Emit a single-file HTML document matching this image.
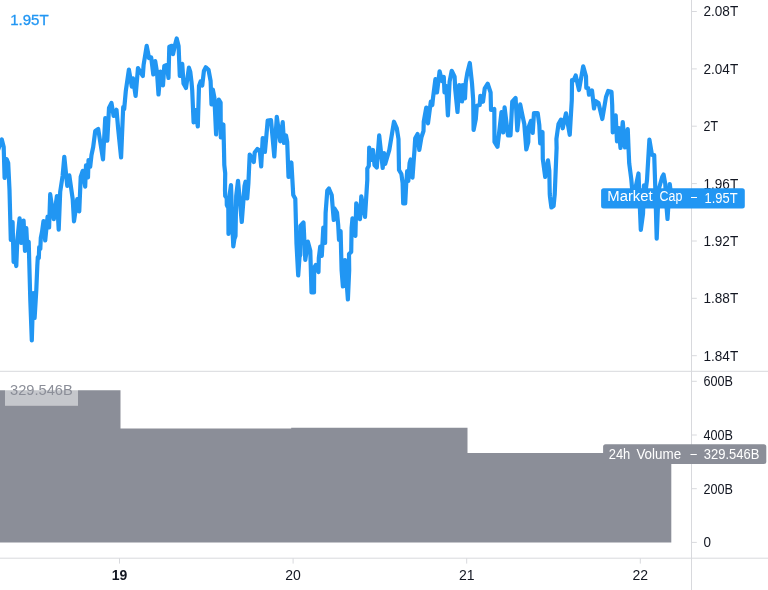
<!DOCTYPE html>
<html lang="en"><head><meta charset="utf-8"><title>Market Cap chart</title>
<style>html,body{margin:0;padding:0;background:#fff;}body{width:768px;height:590px;overflow:hidden;}svg{display:block;font-family:"Liberation Sans", "DejaVu Sans", sans-serif;}</style></head><body>
<svg width="768" height="590" viewBox="0 0 768 590">
<rect width="768" height="590" fill="#fff"/>
<path d="M0,390.2 H120.5 V428.5 H291.2 V427.7 H467.5 V453 H671.3 V542.4 H0 Z" fill="#8b8e98"/>
<g stroke="#d8d9dd" stroke-width="1" fill="none">
<path d="M0,371.3 H768"/>
<path d="M0,558.2 H768"/>
<path d="M691.5,0 V590"/>
<path d="M691.5,11.5 H696.8"/>
<path d="M691.5,68.9 H696.8"/>
<path d="M691.5,126.2 H696.8"/>
<path d="M691.5,183.6 H696.8"/>
<path d="M691.5,241.0 H696.8"/>
<path d="M691.5,298.3 H696.8"/>
<path d="M691.5,355.7 H696.8"/>
<path d="M691.5,381.3 H696.8"/>
<path d="M691.5,435.0 H696.8"/>
<path d="M691.5,488.7 H696.8"/>
<path d="M691.5,542.4 H696.8"/>
<path d="M119.5,558.2 V563.6"/>
<path d="M293.1,558.2 V563.6"/>
<path d="M466.7,558.2 V563.6"/>
<path d="M640.3,558.2 V563.6"/>
</g>
<text x="703.5" y="16.4" font-size="14" fill="#131722" font-weight="normal" text-anchor="start" textLength="34.7" lengthAdjust="spacingAndGlyphs">2.08T</text>
<text x="703.5" y="73.8" font-size="14" fill="#131722" font-weight="normal" text-anchor="start" textLength="34.7" lengthAdjust="spacingAndGlyphs">2.04T</text>
<text x="703.5" y="131.1" font-size="14" fill="#131722" font-weight="normal" text-anchor="start" textLength="14.5" lengthAdjust="spacingAndGlyphs">2T</text>
<text x="703.5" y="188.5" font-size="14" fill="#131722" font-weight="normal" text-anchor="start" textLength="34.7" lengthAdjust="spacingAndGlyphs">1.96T</text>
<text x="703.5" y="245.9" font-size="14" fill="#131722" font-weight="normal" text-anchor="start" textLength="34.7" lengthAdjust="spacingAndGlyphs">1.92T</text>
<text x="703.5" y="303.2" font-size="14" fill="#131722" font-weight="normal" text-anchor="start" textLength="34.7" lengthAdjust="spacingAndGlyphs">1.88T</text>
<text x="703.5" y="360.6" font-size="14" fill="#131722" font-weight="normal" text-anchor="start" textLength="34.7" lengthAdjust="spacingAndGlyphs">1.84T</text>
<text x="703.5" y="386.2" font-size="14" fill="#131722" font-weight="normal" text-anchor="start" textLength="29.5" lengthAdjust="spacingAndGlyphs">600B</text>
<text x="703.5" y="439.9" font-size="14" fill="#131722" font-weight="normal" text-anchor="start" textLength="29.5" lengthAdjust="spacingAndGlyphs">400B</text>
<text x="703.5" y="493.6" font-size="14" fill="#131722" font-weight="normal" text-anchor="start" textLength="29.5" lengthAdjust="spacingAndGlyphs">200B</text>
<text x="703.5" y="547.3" font-size="14" fill="#131722" font-weight="normal" text-anchor="start" textLength="7.5" lengthAdjust="spacingAndGlyphs">0</text>
<text x="119.5" y="580.3" font-size="14" fill="#131722" font-weight="bold" text-anchor="middle">19</text>
<text x="293.1" y="580.3" font-size="14" fill="#131722" font-weight="normal" text-anchor="middle">20</text>
<text x="466.7" y="580.3" font-size="14" fill="#131722" font-weight="normal" text-anchor="middle">21</text>
<text x="640.3" y="580.3" font-size="14" fill="#131722" font-weight="normal" text-anchor="middle">22</text>
<text x="10.2" y="24.7" font-size="14.4" fill="#2196f3" stroke="#2196f3" stroke-width="0.3" textLength="38.5" lengthAdjust="spacingAndGlyphs">1.95T</text>
<rect x="5" y="383" width="73" height="22.8" fill="#fff" fill-opacity="0.5"/>
<text x="10" y="395.3" font-size="14" fill="#8b8e98" font-weight="normal" text-anchor="start" textLength="62.8" lengthAdjust="spacingAndGlyphs">329.546B</text>
<rect x="601.1" y="188.2" width="143.7" height="20.2" rx="2.5" fill="#2196f3"/>
<path d="M-2,150 L1.8,139.5 L3.7,147 L4.6,178 L6.6,159 L8.2,163 L9.5,190 L10.8,240 L12.6,222 L13.6,262 L14.8,258 L16.3,266 L17.3,240 L19.6,218.3 L21.3,243 L23.6,220.5 L25,251 L26.3,228 L27.3,248 L28.7,241.7 L30.3,300 L31.8,340.5 L33.2,293 L34.6,318 L36.3,290 L37.3,266 L37.8,257 L38.8,258 L39.2,247 L40.3,249 L40.8,238 L42,232 L43.5,221 L45.2,240.5 L47.6,216.5 L49.1,227.5 L50.2,194.2 L53.8,219.2 L56.9,196 L58.7,229.6 L60.2,191.7 L62.6,176 L64.3,156.8 L67.25,185.8 L69.3,175.4 L72.7,199 L74,221.3 L77.2,199.2 L79.25,211.5 L80.7,177 L82.7,170.8 L85.2,186.7 L86,165.4 L88,177.5 L88.5,160 L90.2,166.7 L91.5,155 L93.2,147 L95.25,131 L98.2,129 L103,159.5 L105.25,118 L107.3,140.7 L109,108 L111.5,103 L113.6,116 L116.5,109.8 L118.2,129 L121.1,157.5 L123.2,107 L124.2,109 L125.8,91 L128.9,69.6 L131.8,86.7 L133,78.3 L135.6,96 L138,68 L142.8,76 L143.6,65 L146.7,45.8 L149,58 L151.2,57.5 L153.3,74.5 L155.2,61 L157,72 L158.5,94.5 L160.5,71.5 L163,85.4 L164.3,66 L166.8,65 L168.5,78 L169.3,46.7 L171.8,45.8 L173,54.2 L175.2,44.2 L176.7,38.5 L178.6,46 L179.8,76 L182.25,63.8 L183.5,83.5 L186,88 L188.9,67.7 L190.3,72 L191.5,82 L192.2,90 L193.6,122.5 L195.6,110 L197.8,126.5 L199,86 L200.6,81.4 L202.25,85.6 L203.9,71 L205.8,67.25 L208.5,69.75 L210.6,81 L211.5,104.5 L212.8,89.5 L214.4,97.7 L216.1,134.5 L218.8,99.5 L220.6,102.5 L220.8,137.5 L223.4,124.5 L224,150 L224.3,165 L225.2,173.3 L225,190 L225.2,196 L226.7,198 L226.8,205 L228.3,208 L228.5,234 L229.6,195 L231,185 L232.8,236 L233.3,246.5 L234.4,239 L235.5,236 L236.2,196 L238,180.8 L241.75,222 L244.5,186 L245.5,181.7 L247.2,198.5 L248.4,183.3 L249.7,154.6 L253.8,162 L254.7,152.5 L257.4,149 L259.8,150.5 L261.2,166.5 L262.7,138 L264.8,139.5 L264.9,152 L266,140 L267.7,120.5 L271,120 L274.3,156.5 L276.8,116.75 L280.2,141.3 L282.7,122.2 L284,143 L286,135.5 L287.2,142 L288.5,177 L291.4,162.5 L293.25,195 L295.3,198.75 L296.5,244 L298.2,275.5 L299.5,257 L300.3,255 L300.4,226 L303.5,222.5 L305.3,260 L307.9,241.7 L310.3,250.8 L311.5,292.5 L314,292.5 L314.2,267.5 L315.75,265 L318.5,272 L318.8,258.3 L320.2,246.7 L321.8,256 L323.3,227.5 L325.1,243 L325.6,213 L327.3,190.5 L328.9,188.5 L331.7,195 L332.5,205 L333.75,220 L334.4,208.3 L337,212.5 L338.2,225 L339,240 L340.6,231 L341.6,270 L342.9,286.5 L345,260 L347.9,299.5 L349.2,270 L349,254 L351.2,252 L351.6,228 L352.5,218.3 L355.4,236 L356.25,203.3 L360,219.2 L361.3,196.25 L365,217 L367.3,180 L367.3,168.5 L368.8,166 L369.2,147.5 L371,160 L373,150 L374.5,165 L376.8,167.5 L379.2,135.4 L382.7,168 L384,153 L385.2,164 L389.3,150 L394,121.7 L396.8,128.3 L398.5,139 L399,170 L401.4,174 L402.6,183 L403.2,203.5 L405.2,203.5 L406.2,184 L407.2,171 L408.3,181 L409.6,163 L410.6,159.5 L411.3,176 L412.5,177.5 L413.6,162 L414.5,150 L415.2,138.3 L417.6,134 L419.3,150 L421.5,137 L423.5,131 L423.75,121.7 L426.25,107.5 L428,123.3 L430.8,101.7 L432.3,105 L433,98 L435.4,79.2 L437,92.5 L439.6,71.25 L442,81 L443.8,77 L444.5,92.5 L446.25,86 L447.9,115.5 L449.6,81.7 L451.7,70.8 L454.6,76.7 L455.2,89 L457.5,112 L459.2,85 L460.5,99 L461.3,85.5 L462,101.5 L463,85 L465,98.5 L465.8,82 L467.3,73 L469.8,63 L472,83.3 L473.2,100 L473.6,130 L475.8,119 L476.8,105.8 L479.75,105 L480.3,95.8 L483,101.7 L484.75,88.3 L487.7,83.75 L490.6,92.5 L491,110 L494.3,109 L494.5,142 L497.5,146.8 L501.5,112 L503.2,132.5 L504.6,107.4 L508,135.5 L510.5,135.5 L512.25,101.7 L515.6,98 L517.3,130.5 L520.2,104.4 L522.7,116.7 L524.3,124 L526.3,149.5 L528.3,142 L528.5,127.5 L531,120.8 L532.7,133 L534,113 L537.7,113 L539.3,125 L540.2,143.5 L542.5,132 L542.8,159 L545.2,177 L548,160.4 L549.3,170.8 L549.75,194 L550,197 L551.4,207.5 L553.6,206 L554.75,194 L556.6,148 L556.4,139 L558.5,124 L561,119.6 L562.7,128.3 L566,113.3 L569.75,134.8 L571.8,100 L572,80 L573.5,80.5 L575.7,75.5 L579,90 L583.2,66.3 L586,76.3 L586.3,88 L588.2,88 L589,94.7 L592,90.5 L592.75,97 L594,108.5 L595.5,101 L598.5,103 L602.3,119 L606,97 L608.2,91 L611.5,91.75 L612.2,105 L612.75,132.5 L615.7,115.4 L617,141.3 L618.8,128 L620.5,148 L622.75,122 L625,147.5 L627.75,129 L628.6,150 L629.2,163.3 L631.25,179 L632.5,193 L635.5,188 L638.5,173.5 L640.8,230 L643,214 L644,185.4 L645.5,192 L647,180 L649.4,139.5 L652,155 L654.2,155 L655,179 L655.5,195 L656.7,238.7 L658.6,190 L660.5,183 L662.2,177 L663.6,174.5 L665.3,184 L666,200 L667.5,219 L669.75,184 L671.5,198" fill="none" stroke="#2196f3" stroke-width="4.2" stroke-linejoin="round" stroke-linecap="round"/>
<g fill="#fff">
<text y="201.4" font-size="14" fill="#fff"><tspan x="607.3" textLength="45.4" lengthAdjust="spacingAndGlyphs">Market</tspan> <tspan x="659.5" textLength="22.8" lengthAdjust="spacingAndGlyphs">Cap</tspan></text>
<text x="691" y="201.4" font-size="14" fill="#fff" font-weight="normal" text-anchor="start" textLength="6" lengthAdjust="spacingAndGlyphs">–</text>
<text x="704.6" y="203.4" font-size="14" fill="#fff" font-weight="normal" text-anchor="start" textLength="33" lengthAdjust="spacingAndGlyphs">1.95T</text>
</g>
<rect x="603.1" y="444.3" width="163.2" height="19.6" rx="2.5" fill="#8b8e98"/>
<text y="459.4" font-size="14" fill="#fff"><tspan x="608.7" textLength="21.6" lengthAdjust="spacingAndGlyphs">24h</tspan> <tspan x="636.4" textLength="44.8" lengthAdjust="spacingAndGlyphs">Volume</tspan></text>
<text x="690.4" y="457.6" font-size="14" fill="#fff" font-weight="normal" text-anchor="start" textLength="6.3" lengthAdjust="spacingAndGlyphs">–</text>
<text x="703.8" y="459.4" font-size="14" fill="#fff" font-weight="normal" text-anchor="start" textLength="55.6" lengthAdjust="spacingAndGlyphs">329.546B</text>
</svg></body></html>
